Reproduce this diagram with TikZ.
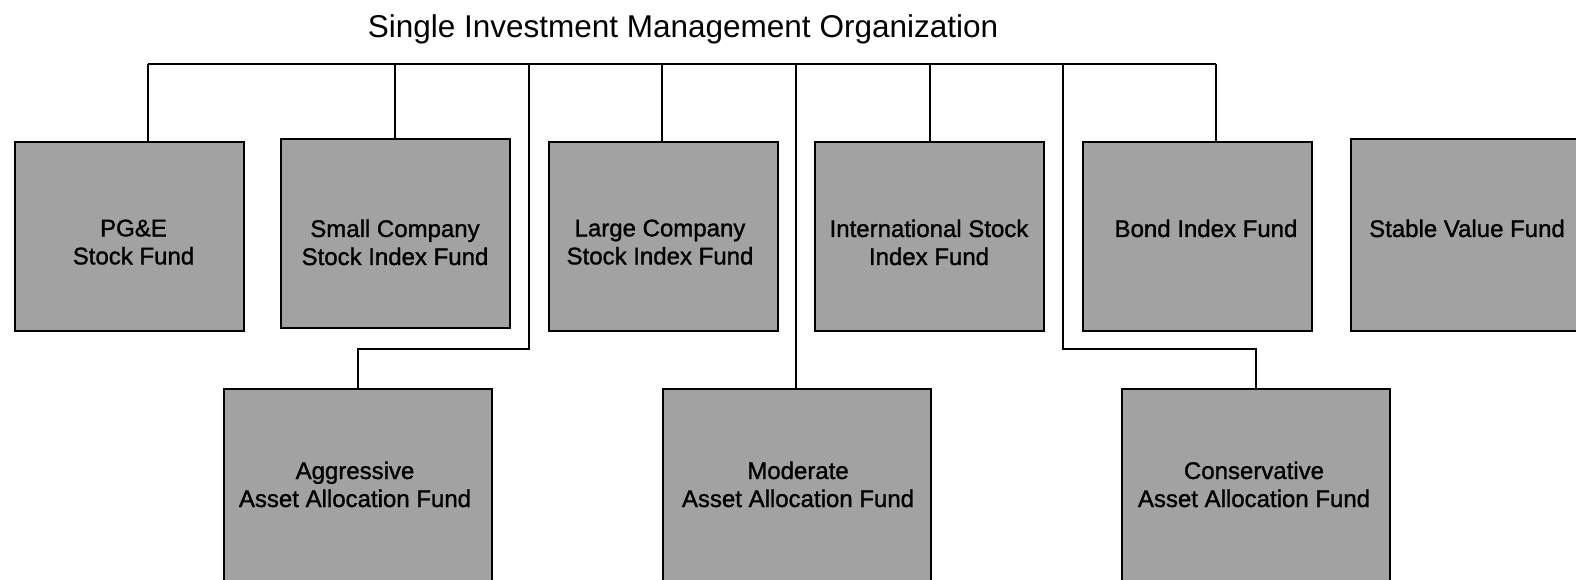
\documentclass[tikz,border=0pt]{standalone}
\usepackage{fontspec}
\setmainfont{Liberation Sans}
\newfontfamily\lblfont[FakeBold=1.2]{Liberation Sans}
\definecolor{boxgray}{RGB}{162,162,162}
\begin{document}
\begin{tikzpicture}[x=1pt,y=-1pt,
  fund/.style={draw=black, line width=2.2pt, fill=boxgray, inner sep=0pt, anchor=north west},
  toprow/.style={fund, minimum width=229pt, minimum height=189pt},
  botrow/.style={fund, minimum width=268pt, minimum height=215pt},
  lbl/.style={anchor=north, inner sep=0pt, align=center, text=black, font=\lblfont\fontsize{24}{28}\selectfont},
  conn/.style={draw=black, line width=1.8pt},
  titlefont/.style={font=\fontsize{31.5}{36}\selectfont}]
\clip (0,0) rectangle (1576,579);
\fill[white] (0,0) rectangle (1576,579);

% title
\node[titlefont, anchor=base, inner sep=0pt] (title) at (683,37) {Single Investment Management Organization};

% top row boxes
\node[toprow] (pge)   at (14,141)  {};
\node[toprow] (small) at (280,138) {};
\node[toprow] (large) at (548,141) {};
\node[toprow] (intl)  at (814,141) {};
\node[toprow] (bond)  at (1082,141) {};
\node[toprow, minimum height=192pt, minimum width=240pt] (stable) at (1350,138) {};

% bottom row boxes
\node[botrow] (aggr) at (223,388)  {};
\node[botrow] (mod)  at (662,388)  {};
\node[botrow] (cons) at (1121,388) {};

% labels
\node[lbl] (pge-t)    at (133.5,219.4) {PG\&E\\Stock Fund};
\node[lbl] (small-t)  at (395,219.4) {Small Company\\Stock Index Fund};
\node[lbl] (large-t)  at (660,219.4) {Large Company\\Stock Index Fund};
\node[lbl] (intl-t)   at (929,219.4) {International Stock\\Index Fund};
\node[lbl] (bond-t)   at (1206,219.4) {Bond Index Fund};
\node[lbl] (stable-t) at (1467,219.4) {Stable Value Fund};
\node[lbl] (aggr-t)   at (355,461.4) {Aggressive\\Asset Allocation Fund};
\node[lbl] (mod-t)    at (798,461.4) {Moderate\\Asset Allocation Fund};
\node[lbl] (cons-t)   at (1254,461.4) {Conservative\\Asset Allocation Fund};

% bus
\coordinate (b1) at (148,64);
\coordinate (b2) at (395,64);
\coordinate (ba) at (529,64);
\coordinate (b3) at (662,64);
\coordinate (bm) at (796,64);
\coordinate (b4) at (930,64);
\coordinate (bc) at (1063,64);
\coordinate (b5) at (1216,64);
\coordinate (ea) at (529,349);
\coordinate (ec) at (1063,349);

\draw[conn] (b1) -- (b5);
\draw[conn] (b1) -- (b1 |- pge.north);
\draw[conn] (b2) -- (b2 |- small.north);
\draw[conn] (b3) -- (b3 |- large.north);
\draw[conn] (b4) -- (b4 |- intl.north);
\draw[conn] (b5) -- (b5 |- bond.north);
\draw[conn] (ba) -- (ea) -| (aggr.north);
\draw[conn] (bm) -- (bm |- mod.north);
\draw[conn] (bc) -- (ec) -| (cons.north);
\end{tikzpicture}
\end{document}
